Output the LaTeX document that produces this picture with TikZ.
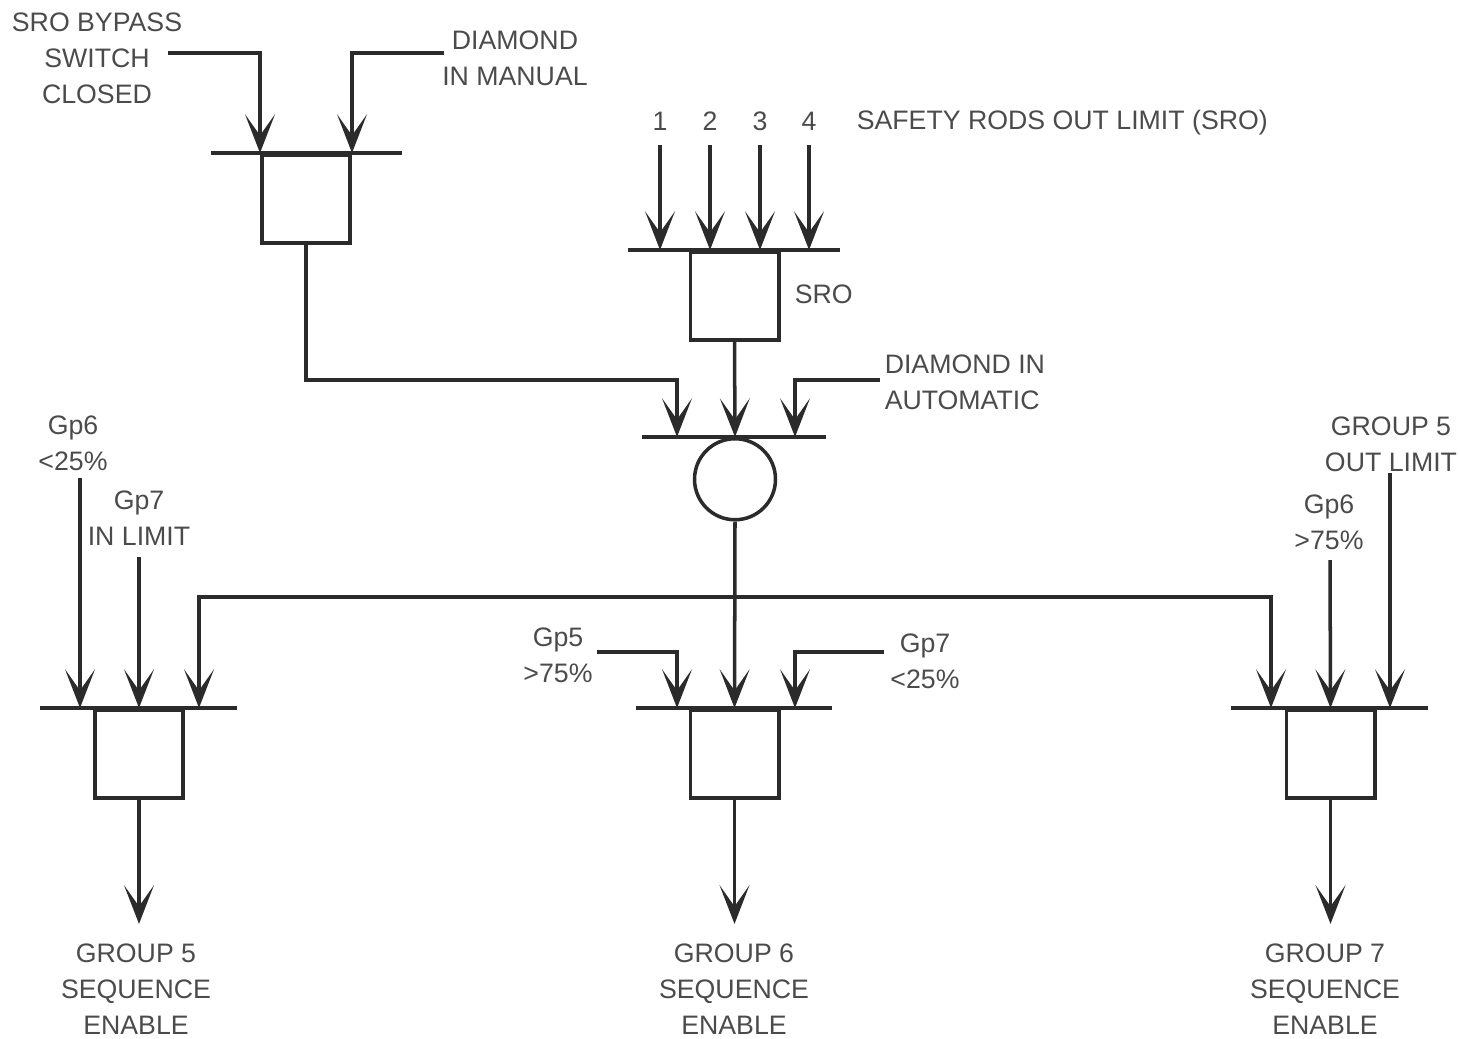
\documentclass[tikz,border=0pt]{standalone}
\usepackage{fontspec}
\setmainfont{Liberation Sans}
\usepackage{xcolor}
\usetikzlibrary{arrows.meta}
\definecolor{ink}{HTML}{2B2B2B}
\tikzset{
  andgate/.style={rectangle, draw, minimum width=1.77cm, minimum height=1.76cm, inner sep=0pt, anchor=north},
  orgate/.style={circle, draw, minimum size=1.62cm, inner sep=0pt, anchor=north},
  lbl/.style={align=center, font=\fontsize{15.2}{20.5}\selectfont, inner sep=0pt, text=ink!85},
  arr/.style={-{Stealth[length=22pt, width=17pt, inset=12pt]}},
}

\begin{document}
\begin{tikzpicture}[x=0.02cm, y=-0.02cm, line width=2pt, draw=ink, color=ink]

  \useasboundingbox (0,0) rectangle (1460,1038);

  %% === Labels ===
  \node[lbl] at (97,58) (bypass) {SRO BYPASS\\SWITCH\\CLOSED};
  \node[lbl] at (515,58) (manual) {DIAMOND\\IN MANUAL};
  \node[lbl, anchor=west] at (855,123) (sroLim) {SAFETY RODS OUT LIMIT (SRO)};
  \node[lbl, anchor=west] at (793,294) (sroTxt) {SRO};
  \node[lbl, anchor=west, align=left] at (883,382) (auto) {DIAMOND IN\\AUTOMATIC};
  \node[lbl] at (73,443) (gp6lo) {Gp6\\<25\%};
  \node[lbl] at (139,518) (gp7in) {Gp7\\IN LIMIT};
  \node[lbl] at (558,655) (gp5hi) {Gp5\\>75\%};
  \node[lbl] at (925,661) (gp7lo) {Gp7\\<25\%};
  \node[lbl] at (1329,522) (gp6hi) {Gp6\\>75\%};
  \node[lbl] at (1391,444) (g5lim) {GROUP 5\\OUT LIMIT};
  \node[lbl] at (136,989) (grp5) {GROUP 5\\SEQUENCE\\ENABLE};
  \node[lbl] at (734,989) (grp6) {GROUP 6\\SEQUENCE\\ENABLE};
  \node[lbl] at (1325,989) (grp7) {GROUP 7\\SEQUENCE\\ENABLE};

  %% === Gates ===
  \node[andgate] at (306,153) (gA) {};
  \node[andgate] at (734.5,250) (gB) {};
  \node[orgate] at (735,437) (orC) {};
  \node[andgate] at (139,708) (g5) {};
  \node[andgate] at (734.5,708) (g6) {};
  \node[andgate] at (1330.5,708) (g7) {};

  % input bars
  \draw (211,153) -- (402,153);
  \draw (628,250) -- (840,250);
  \draw (642,437) -- (826,437);
  \draw (40,708) -- (237,708);
  \draw (636,708) -- (832,708);
  \draw (1231,708) -- (1428,708);

  %% === Connector ends ===
  \coordinate (bypS) at (168,53);
  \coordinate (manS) at (444,53);
  \coordinate (autoS) at (880,380);
  \coordinate (orIn1) at (677,437);
  \coordinate (orIn3) at (795,437);
  \coordinate (split) at (735,597);
  \coordinate (gp6loS) at (80,478);
  \coordinate (gp7inS) at (139,557);
  \coordinate (gp5hiS) at (597,652);
  \coordinate (gp7loS) at (884,652);
  \coordinate (gp6hiS) at (1330,560);
  \coordinate (g5limS) at (1390,473);
  \coordinate (g5in1) at (80,708);
  \coordinate (g5in3) at (199,708);
  \coordinate (g6in1) at (677,708);
  \coordinate (g6in3) at (795,708);
  \coordinate (g7in1) at (1271,708);
  \coordinate (g7in3) at (1390,708);

  % top left gate
  \draw[arr] (bypS) -| (gA.north west);
  \draw[arr] (manS) -| (gA.north east);

  % SRO gate
  \foreach \x/\n in {660/1, 710/2, 760/3, 809/4} {
    \node[lbl] at (\x,121) (num\n) {\n};
    \draw[arr] ([yshift=-0.48cm]num\n.center) -- (num\n |- gB.north);
  }

  % into the circle
  \draw[arr] (gA.south) -- (gA.south |- autoS) -| (orIn1);
  \draw[arr] (gB.south) -- (orC.north);
  \draw[arr] (autoS) -| (orIn3);

  % circle out
  \draw[arr] (orC.south) -- (g6.north);
  \draw[arr] (split) -| (g5in3);
  \draw[arr] (split) -| (g7in1);

  % side inputs
  \draw[arr] (gp6loS) -- (g5in1);
  \draw[arr] (gp7inS) -- (g5.north);
  \draw[arr] (gp5hiS) -| (g6in1);
  \draw[arr] (gp7loS) -| (g6in3);
  \draw[arr] (gp6hiS) -- (g7.north);
  \draw[arr] (g5limS) -- (g7in3);

  % outputs
  \draw[arr] (g5.south) -- ([yshift=0.36cm]grp5.north -| g5.south);
  \draw[arr] (g6.south) -- ([yshift=0.36cm]grp6.north -| g6.south);
  \draw[arr] (g7.south) -- ([yshift=0.36cm]grp7.north -| g7.south);

\end{tikzpicture}
\end{document}
